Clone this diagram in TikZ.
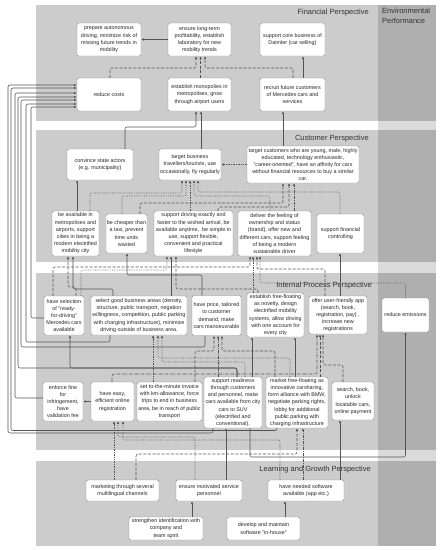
\documentclass[tikz,border=0pt]{standalone}
\usepackage{fontspec}
\setmainfont{Liberation Sans}
\usetikzlibrary{arrows.meta,calc}

\definecolor{band}{gray}{0.8}
\definecolor{edge}{gray}{0.33}
\definecolor{frame}{gray}{0.55}

\begin{document}
\begin{tikzpicture}[x=1pt,y=-1pt,
    box/.style={draw=frame,fill=white,rounded corners=1.5pt,align=center,inner sep=1pt,
      text=black!85,font=\fontsize{5.4}{7.2}\selectfont},
    title/.style={anchor=east,inner sep=0pt,text=black!80,font=\fontsize{7.5}{9.5}\selectfont},
    flow/.style={draw=edge,line width=0.55pt,rounded corners=2pt,-{Latex[length=2.6pt,width=2.2pt]}},
    dflow/.style={flow,dash pattern=on 3pt off 1.6pt},
    pflow/.style={flow,dash pattern=on 0.6pt off 1.1pt},
    dpflow/.style={flow,dash pattern=on 3pt off 1.2pt on 0.6pt off 1.2pt}]
    \useasboundingbox (0,0) rectangle (441,550);

    % Perspective bands
    \fill[band] (36,5) rectangle (436,121);
    \fill[band] (36,130) rectangle (436,262);
    \fill[band] (36,273) rectangle (436,450);
    \fill[band] (36,461) rectangle (436,546);
    \fill[black,fill opacity=0.14] (378,5) rectangle (436,546);

    \node[title] (lfin) at (369,13) {Financial Perspective};
    \node[title,anchor=north west,align=left] (lenv) at (382,8) {Environmental\\Performance};
    \node[title] (lcus) at (369,139) {Customer Perspective};
    \node[title] (lint) at (372,286) {Internal Process Perspective};
    \node[title] (llrn) at (371,470) {Learning and Growth Perspective};

    % Financial
    \node[box,minimum width=64pt,minimum height=33pt] (prep) at (109,39.5) {prepare autonomous\\driving, minimize risk of\\missing future trends in\\mobility};
    \node[box,minimum width=63pt,minimum height=33pt] (ltp) at (199.5,39.5) {ensure long-term\\profitability, establish\\laboratory for new\\mobility trends};
    \node[box,minimum width=65pt,minimum height=33pt] (core) at (292.5,39.5) {support core business of\\Daimler (car selling)};
    \node[box,minimum width=64pt,minimum height=33pt] (cost) at (109,94.5) {reduce costs};
    \node[box,minimum width=63pt,minimum height=33pt] (mono) at (199.5,94.5) {establish monopolies in\\metropolises, grow\\through airport users};
    \node[box,minimum width=65pt,minimum height=33pt] (recr) at (292.5,94.5) {recruit future customers\\of Mercedes cars and\\services};

    % Customer
    \node[box,minimum width=66pt,minimum height=31pt] (conv) at (100,164.5) {convince state actors\\(e.g. municipality)};
    \node[box,minimum width=62pt,minimum height=31pt] (tbus) at (190,164.5) {target business\\travellers/tourists, use\\occasionally, fly regularly};
    \node[box,minimum width=112pt,minimum height=37pt] (tcus) at (303,164.5) {target customers who are young, male, highly\\educated, technology enthusiastic,\\"career-oriented", have an affinity for cars\\without financial resources to buy a similar\\car.};
    \node[box,minimum width=47pt,minimum height=45pt] (avail) at (75.5,233.5) {be available in\\metropolises and\\airports, support\\cities in being a\\modern electrified\\mobility city};
    \node[box,minimum width=41pt,minimum height=39pt] (cheap) at (126.5,233.5) {be cheaper than\\a taxi, prevent\\time units\\wasted};
    \node[box,minimum width=79pt,minimum height=45pt] (drive) at (193.5,233.5) {support driving exactly and\\faster to the wished arrival, be\\available anytime,\ \ be simple in\\use, support flexible,\\convenient and practical\\lifestyle};
    \node[box,minimum width=73pt,minimum height=45pt] (feel) at (274.5,233.5) {deliver the feeling of\\ownership and status\\(brand), offer new and\\different cars, support feeling\\of being a modern\\sustainable driver};
    \node[box,minimum width=47pt,minimum height=39pt] (fin) at (340.5,233.5) {support financial\\controlling};

    % Internal process
    \node[box,minimum width=40pt,minimum height=39pt] (sel) at (64,315.5) {have selection\\of "ready-\\for-driving"\\Mercedes cars\\available};
    \node[box,minimum width=96pt,minimum height=39pt] (area) at (139,315.5) {select good business areas (density,\\structure, public transport, negation\\willingness, competition, public parking\\with charging infrastructure), minimize\\driving outside of business area.};
    \node[box,minimum width=49pt,minimum height=40pt] (price) at (216.5,315.5) {have price, tailored\\to customer\\demand, make\\cars manoeuvrable};
    \node[box,minimum width=57pt,minimum height=44pt] (ff) at (275.5,315) {establish free-floating\\as novelty, design\\electrified mobility\\systems, allow driving\\with one account for\\every city};
    \node[box,minimum width=58pt,minimum height=38pt] (app) at (338,315) {offer user-friendly app\\(search, book,\\registration, pay) ,\\increase new\\registrations};
    \node[box,minimum width=47pt,minimum height=34pt] (emis) at (405.5,315) {reduce emissions};
    \node[box,minimum width=40pt,minimum height=39pt] (fine) at (63,401.5) {enforce fine\\for\\infringement,\\have\\validation fee};
    \node[box,minimum width=43pt,minimum height=39pt] (easy) at (112.5,401.5) {have easy,\\efficient online\\registration};
    \node[box,minimum width=65pt,minimum height=39pt] (min) at (169.5,401.5) {set to-the-minute invoice\\with km-allowance, force\\trips to end in business\\area, be in reach of public\\transport};
    \node[box,minimum width=58pt,minimum height=51pt] (ready) at (233,402.5) {support readiness\\through customers\\and personnel, make\\cars available from city\\cars to SUV\\(electrified and\\conventional).};
    \node[box,minimum width=62pt,minimum height=51pt] (mkt) at (297,402.5) {market free-floating as\\innovative carsharing,\\form alliance with BMW,\\negotiate parking rights,\\lobby for additional\\public parking with\\charging infrastructure};
    \node[box,minimum width=42pt,minimum height=38pt] (srch) at (353,401) {search, book,\\unlock\\locatable cars,\\online payment};

    % Learning and growth
    \node[box,minimum width=73pt,minimum height=21pt] (mktg) at (122.5,490.5) {marketing through several\\multilingual channels};
    \node[box,minimum width=66pt,minimum height=21pt] (motiv) at (209,490.5) {ensure motivated service\\personnel};
    \node[box,minimum width=76pt,minimum height=21pt] (soft) at (306,490.5) {have needed software\\available (app etc.)};
    \node[box,minimum width=74pt,minimum height=23pt] (ident) at (166,528.5) {strengthen identification with\\company and\\team spirit};
    \node[box,minimum width=73pt,minimum height=23pt] (dev) at (263.5,528.5) {develop and maintain\\software "in-house"};

    % Financial links
    \draw[flow] (ltp.west) -- (prep.east);
    \draw[flow] (recr.north -| 303,0) -- (core.south -| 303,0);
    \draw[dflow] (cost.north -| 110,0) |- (196,68) -- (ltp.south -| 196,0);
    \draw[dflow] (mono.north -| 200.5,0) -- (ltp.south -| 200.5,0);
    \draw[dflow] (recr.north -| 293,0) |- (205,68) -- (ltp.south -| 205,0);

    % Customer links
    \draw[flow] (conv.north -| 125,0) |- (196,127) -- (mono.south -| 196,0);
    \draw[flow] (tbus.north -| 201,0) -- (mono.south -| 201,0);
    \draw[flow] (tcus.north -| 283,0) -- (recr.south -| 283,0);
    \draw[pflow] (tcus.west) -- (tbus.east);
    \draw[flow] (avail.north -| 77,0) -- (conv.south -| 77,0);
    \draw[pflow] (avail.north -| 90,0) |- (182,193) -- (tbus.south -| 182,0);
    \draw[pflow] (cheap.north -| 122,0) |- (186,196) -- (tbus.south -| 186,0);
    \draw[pflow] (drive.north -| 190,0) -- (tbus.south -| 190,0);
    \draw[pflow] (feel.north -| 270,0) |- (194,196) -- (tbus.south -| 194,0);
    \draw[pflow] (fin.north -| 340,0) |- (198,192) -- (tbus.south -| 198,0);
    \draw[dflow] (cheap.north -| 140,0) |- (283,203) -- (tcus.south -| 283,0);
    \draw[dflow] (drive.north -| 218,0) |- (289,207) -- (tcus.south -| 289,0);
    \draw[dpflow] (feel.north -| 294,0) -- (tcus.south -| 294,0);

    % Internal to customer
    \draw[dflow] (sel.north -| 76,0) |- (68,287) -- (avail.south -| 68,0);
    \draw[flow] (area.north -| 113,0) |- (73,289) -- (avail.south -| 73,0);
    \draw[flow] (price.north -| 202,0) |- (127,275) -- (cheap.south -| 127,0);
    \draw[pflow] (sel.north -| 81,0) |- (167,270) -- (drive.south -| 167,0);
    \draw[flow] (area.north -| 171,0) -- (drive.south -| 171,0);
    \draw[dflow] (ff.north -| 258,0) |- (176,289) -- (drive.south -| 176,0);
    \draw[dflow] (sel.north -| 53,0) |- (250,267) -- (feel.south -| 250,0);
    \draw[pflow] (ff.north -| 253,0) -- (feel.south -| 253,0);
    \draw[dflow] (app.north -| 325,0) |- (257,269) -- (feel.south -| 257,0);
    \draw[pflow] (emis.north) |- (260,283) -- (feel.south -| 260,0);
    \draw[flow] (app.north -| 340,0) -- (fin.south -| 340,0);

    % Cost lines on the left
    \draw[flow] (ready.south -| 213,0) |- (8,433) |- (cost.west |- 0,85);
    \draw[flow] (mkt.south -| 277,0) |- (11,430.5) |- (cost.west |- 0,88);
    \draw[flow] (fine.west |- 0,398) -| (15,93) -- (cost.west |- 0,93);
    \draw[flow] (ready.north -| 237,0) |- (18,368) |- (cost.west |- 0,97);
    \draw[flow] (price.south -| 205,0) |- (21,347) |- (cost.west |- 0,100);
    \draw[flow] (area.south -| 110,0) |- (26,342) |- (cost.west |- 0,104);
    \draw[flow] (sel.west |- 0,318) -| (31,107) -- (cost.west |- 0,107);

    % Internal links
    \draw[flow] (ready.north -| 237,0) |- (70,368) -- (sel.south -| 70,0);
    \draw[flow] (easy.west) -- (fine.east);
    \draw[pflow] (min.north -| 153,0) -- (area.south -| 153,0);
    \draw[pflow] (mkt.north -| 290,0) |- (158,358) -- (area.south -| 158,0);
    \draw[pflow] (ready.north -| 245,0) |- (162,362) -- (area.south -| 162,0);
    \draw[dflow] (min.north -| 195,0) |- (214,351) -- (price.south -| 214,0);
    \draw[dpflow] (ready.north -| 218,0) -- (price.south -| 218,0);
    \draw[dflow] (mkt.north -| 275,0) |- (222,351) -- (price.south -| 222,0);
    \draw[flow] (ready.north -| 252,0) -- (ff.south -| 252,0);
    \draw[flow] (mkt.north -| 295,0) -- (ff.south -| 295,0);
    \draw[dpflow] (easy.north -| 112,0) |- (317,374) -- (app.south -| 317,0);
    \draw[dflow] (mkt.north -| 320,0) -- (app.south -| 320,0);
    \draw[dflow] (srch.north -| 343,0) |- (323,365) -- (app.south -| 323,0);
    \draw[flow] (ready.south -| 250,0) |- (emis.south |- 0,457) -- (emis.south);

    % Learning links
    \draw[pflow] (mktg.north -| 114,0) -- (easy.south -| 114,0);
    \draw[pflow] (motiv.north -| 195,0) |- (118,437) -- (easy.south -| 118,0);
    \draw[pflow] (soft.north -| 280,0) |- (123,440) -- (easy.south -| 123,0);
    \draw[flow] (motiv.north -| 226,0) -- (ready.south -| 226,0);
    \draw[dflow] (mktg.north -| 136,0) |- (297,454) -- (mkt.south -| 297,0);
    \draw[dpflow] (soft.north -| 303,0) -- (mkt.south -| 303,0);
    \draw[flow] (soft.north -| 340,0) -- (srch.south -| 340,0);
    \draw[flow] (ident.north -| 192,0) -- (motiv.south -| 192,0);
    \draw[flow] (dev.north -| 285,0) -- (soft.south -| 285,0);
\end{tikzpicture}
\end{document}
